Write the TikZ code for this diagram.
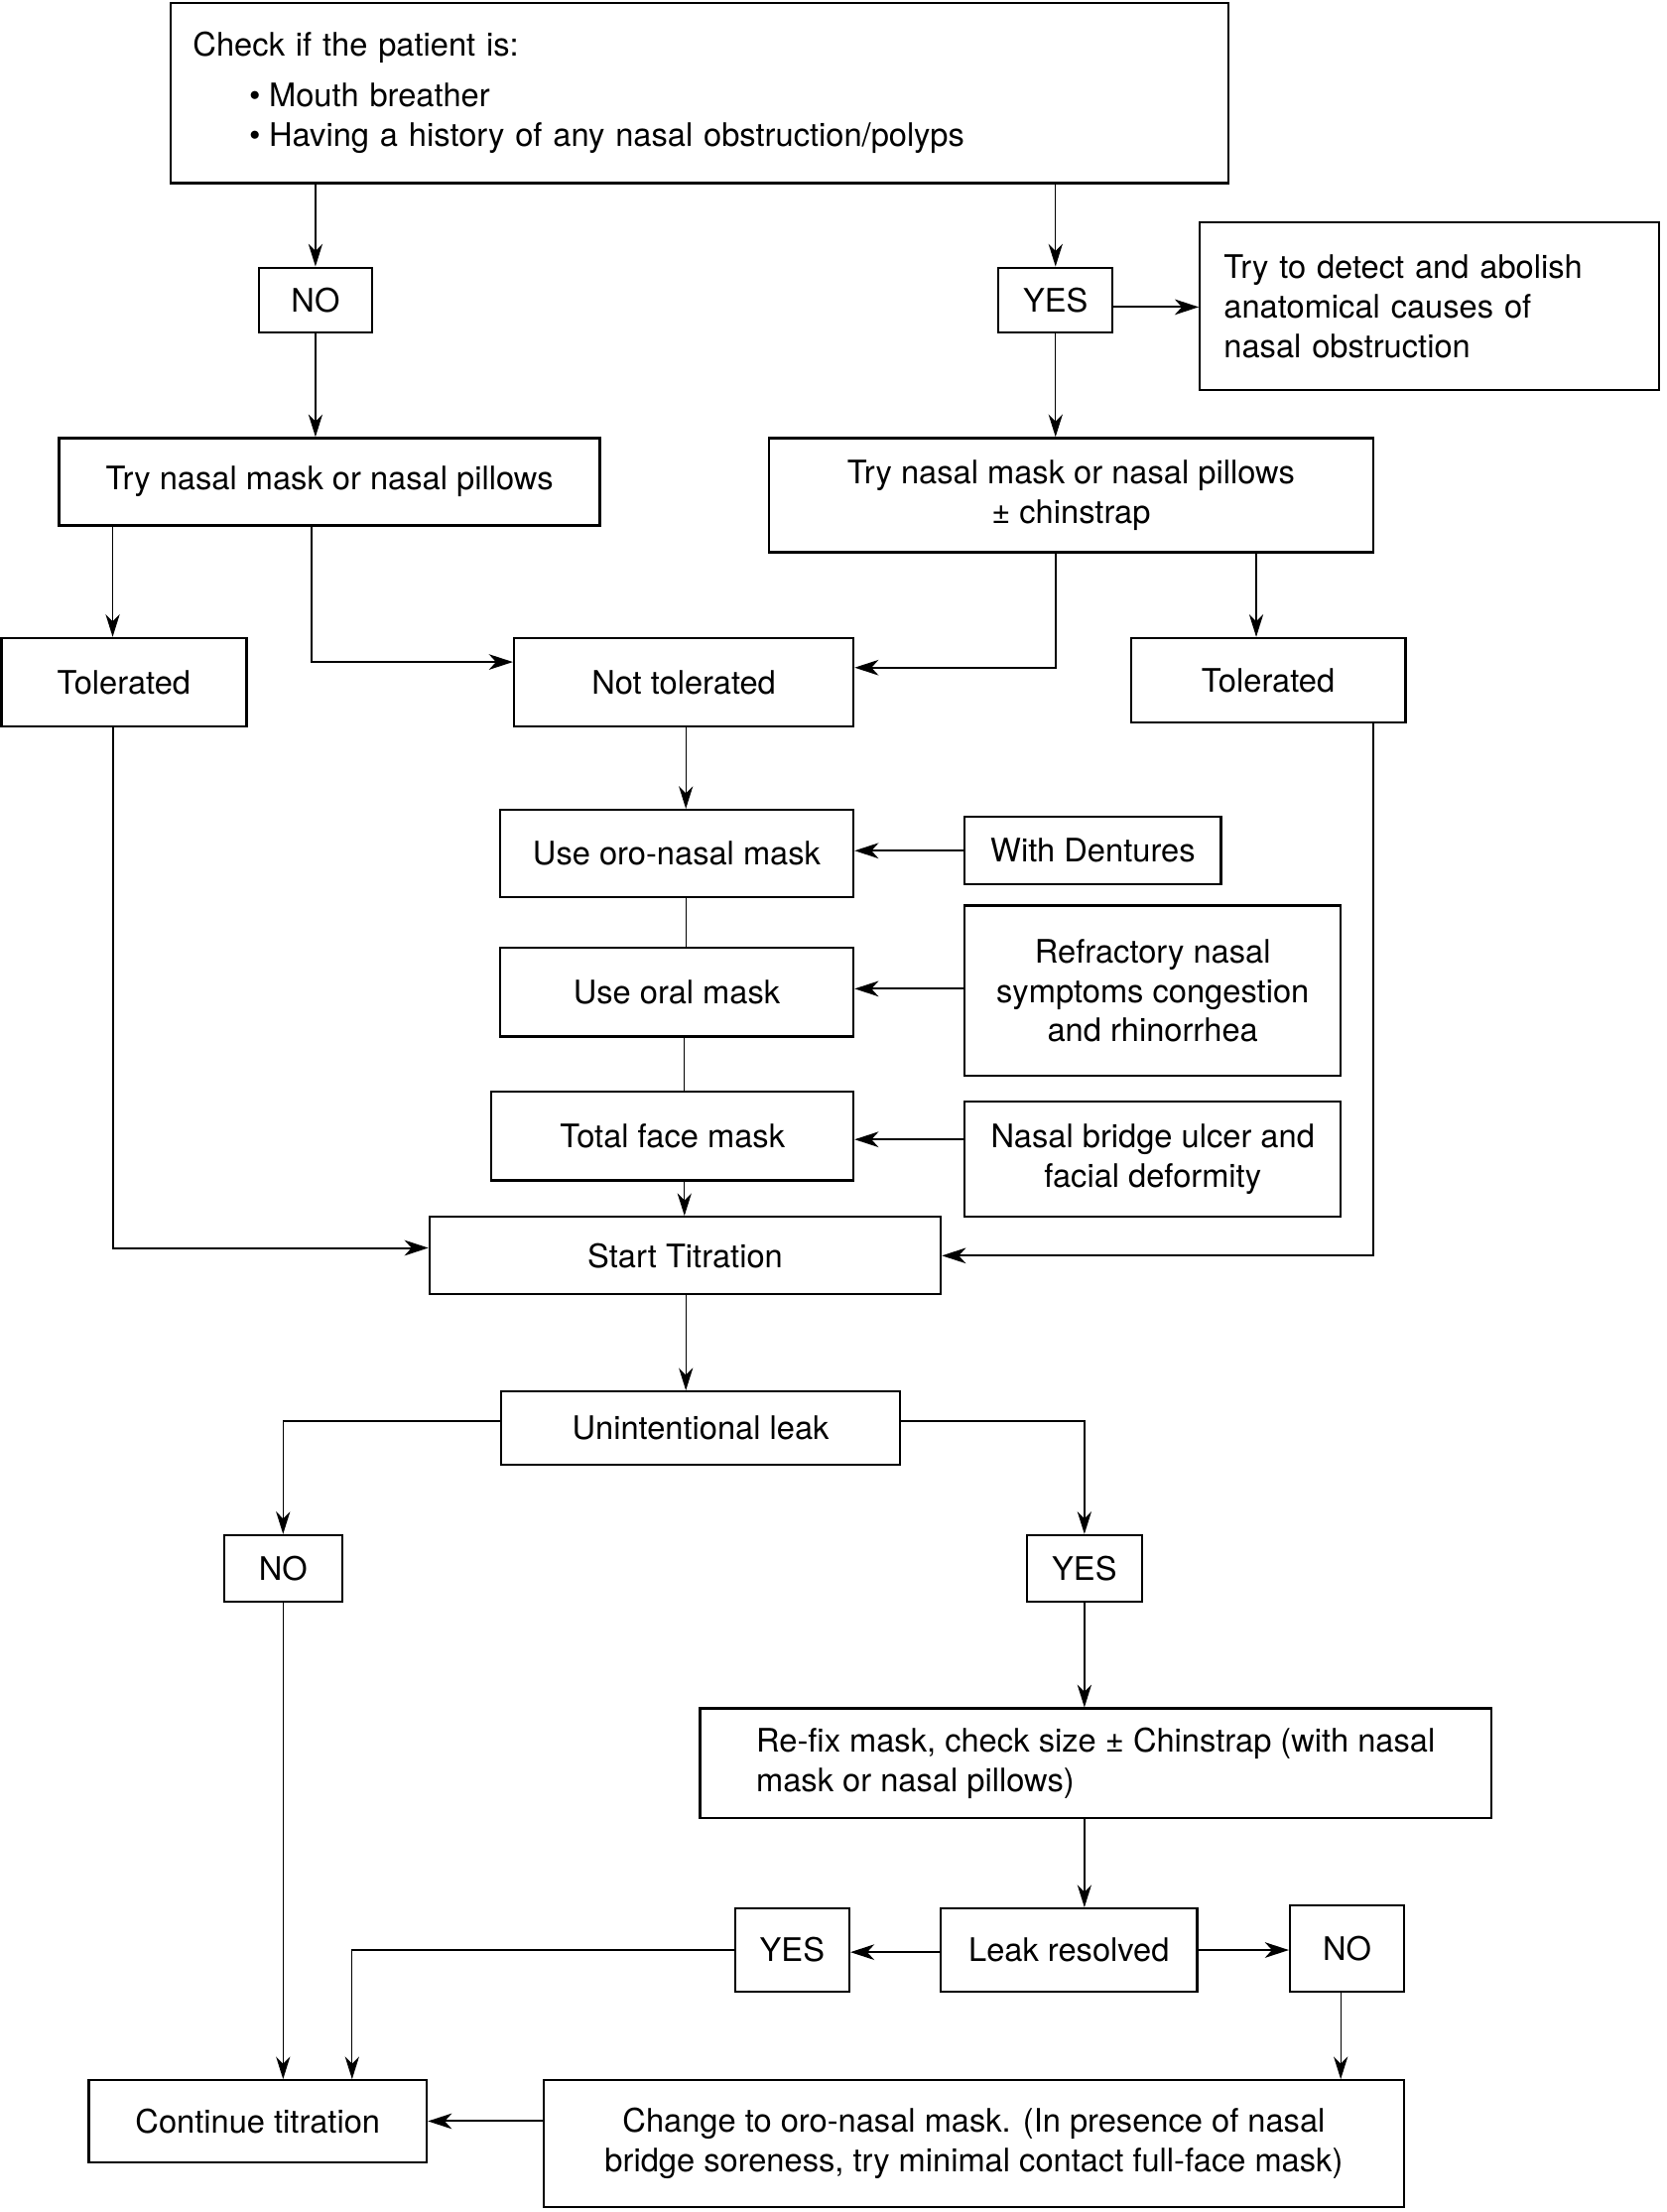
\documentclass[tikz,border=0pt]{standalone}
\usepackage{fontspec}
\setmainfont{TeX Gyre Heros}
\usetikzlibrary{arrows.meta}
\begin{document}
\begin{tikzpicture}[x=1pt,y=-1pt,
  box/.style={draw, line width=1.6pt, inner sep=0pt, font=\fontsize{23}{28}\selectfont, align=center},
  conn/.style={-{Stealth[length=16pt,width=10pt,inset=5pt]}, line width=0.9pt},
  connb/.style={-{Stealth[length=17pt,width=11pt,inset=5pt]}, line width=1.4pt},
  plainline/.style={line width=0.9pt}]
\useasboundingbox (0,0) rectangle (1183,1570.5);

\node[box, minimum width=751pt, minimum height=128pt, text width=719pt, align=left] (check) at (496.5,66)
  {Check if the patient is:\\[8pt]\hspace*{40pt}•\hspace{6pt}Mouth breather\\\hspace*{40pt}•\hspace{6pt}Having a history of any nasal obstruction/polyps};
\node[box, minimum width=80pt, minimum height=46pt] (no1) at (224,213) {NO};
\node[box, minimum width=81pt, minimum height=46pt] (yes1) at (749.5,213) {YES};
\node[box, minimum width=326pt, minimum height=119pt, text width=292pt, align=left] (detect) at (1015,217.5)
  {Try to detect and abolish\\anatomical causes of\\nasal obstruction};
\node[box, minimum width=384pt, minimum height=62pt] (nasal1) at (234,342) {Try nasal mask or nasal pillows};
\node[box, minimum width=429pt, minimum height=81pt] (nasal2) at (760.5,351.5) {Try nasal mask or nasal pillows\\± chinstrap};
\node[box, minimum width=174pt, minimum height=63pt] (tolL) at (88,484.5) {Tolerated};
\node[box, minimum width=241pt, minimum height=63pt] (nottol) at (485.5,484.5) {Not tolerated};
\node[box, minimum width=195pt, minimum height=60pt] (tolR) at (900.5,483) {Tolerated};
\node[box, minimum width=251pt, minimum height=62pt] (oro) at (480.5,606) {Use oro-nasal mask};
\node[box, minimum width=182pt, minimum height=48pt] (dent) at (776,604) {With Dentures};
\node[box, minimum width=251pt, minimum height=63pt] (oral) at (480.5,704.5) {Use oral mask};
\node[box, minimum width=267pt, minimum height=121pt] (refr) at (818.5,703.5) {Refractory nasal\\symptoms congestion\\and rhinorrhea};
\node[box, minimum width=257pt, minimum height=63pt] (total) at (477.5,806.5) {Total face mask};
\node[box, minimum width=267pt, minimum height=82pt] (bridge) at (818.5,823) {Nasal bridge ulcer and\\facial deformity};
\node[box, minimum width=363pt, minimum height=55pt] (start) at (486.5,891.5) {Start Titration};
\node[box, minimum width=283pt, minimum height=52pt] (unint) at (497.5,1014) {Unintentional leak};
\node[box, minimum width=84pt, minimum height=47pt] (no2) at (201,1113.5) {NO};
\node[box, minimum width=82pt, minimum height=47pt] (yes2) at (770,1113.5) {YES};
\node[box, minimum width=562pt, minimum height=78pt, align=left] (refix) at (778,1252)
  {Re-fix mask, check size ± Chinstrap (with nasal\\mask or nasal pillows)};
\node[box, minimum width=182pt, minimum height=59pt] (leak) at (759,1384.5) {Leak resolved};
\node[box, minimum width=81pt, minimum height=59pt] (yes3) at (562.5,1384.5) {YES};
\node[box, minimum width=81pt, minimum height=61pt] (no3) at (956.5,1383.5) {NO};
\node[box, minimum width=240pt, minimum height=58pt] (cont) at (183,1506) {Continue titration};
\node[box, minimum width=611pt, minimum height=90pt] (change) at (691.5,1522)
  {Change to oro-nasal mask. (In presence of nasal\\bridge soreness, try minimal contact full-face mask)};

\draw[conn] (no1.north |- check.south) -- (no1.north);
\draw[conn] (yes1.north |- check.south) -- (yes1.north);
\draw[connb] ([yshift=-5pt]yes1.east) -- ([yshift=-5pt]yes1.east -| detect.west);
\draw[conn] (no1.south) -- (no1.south |- nasal1.north);
\draw[conn] (yes1.south) -- (yes1.south |- nasal2.north);
\draw[conn] (80,0 |- nasal1.south) -- (80,0 |- tolL.north);
\draw[connb] (221,0 |- nasal1.south) |- ([yshift=14.5pt]nottol.west);
\draw[connb] (750,0 |- nasal2.south) |- ([yshift=10.5pt]nottol.east);
\draw[conn] (892,0 |- nasal2.south) -- (892,0 |- tolR.north);
\draw[conn] (487,0 |- nottol.south) -- (487,0 |- oro.north);
\draw[connb] (dent.west) -- (dent.west -| oro.east);
\draw[plainline] (487,0 |- oro.south) -- (487,0 |- oral.north);
\draw[connb] ([yshift=1.5pt]refr.west) -- ([yshift=1.5pt]refr.west -| oral.east);
\draw[plainline] (486,0 |- oral.south) -- (486,0 |- total.north);
\draw[connb] ([yshift=-2.5pt]bridge.west |- total.east) -- ([yshift=-2.5pt]total.east);
\draw[conn] (486,0 |- total.south) -- (486,0 |- start.north);
\draw[connb] (80,0 |- tolL.south) |- ([yshift=5.5pt]start.west);
\draw[connb] (975,0 |- tolR.south) |- (start.east);
\draw[conn] (487,0 |- start.south) -- (487,0 |- unint.north);
\draw[conn] ([yshift=5pt]unint.west) -| (no2.north);
\draw[conn] ([yshift=5pt]unint.east) -| (yes2.north);
\draw[conn] (yes2.south) -- (yes2.south |- refix.north);
\draw[conn] (770,0 |- refix.south) -- (770,0 |- leak.north);
\draw[connb] ([yshift=-1.5pt]leak.west) -- ([yshift=-1.5pt]leak.west -| yes3.east);
\draw[connb] (leak.east) -- (leak.east -| no3.west);
\draw[conn] (yes3.west) -| (250,0 |- cont.north);
\draw[conn] (no2.south) -- (no2.south |- cont.north);
\draw[conn] (952,0 |- no3.south) -- (952,0 |- change.north);
\draw[connb] (change.west |- cont.east) -- (cont.east);
\end{tikzpicture}
\end{document}
